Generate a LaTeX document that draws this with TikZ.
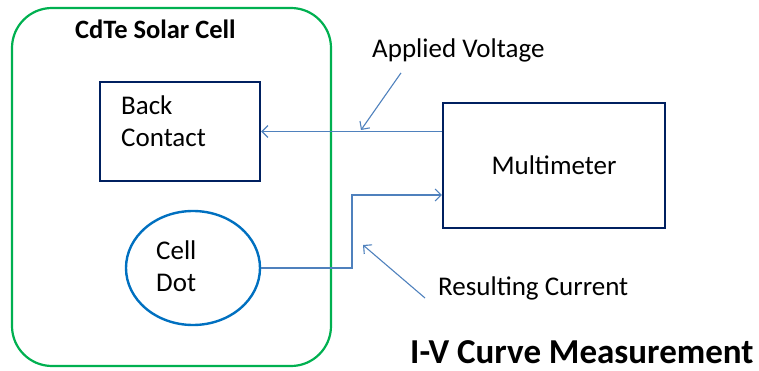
\documentclass[tikz,border=0pt]{standalone}
\usepackage{fontspec}
\setmainfont{Carlito}
\usepackage{tikz}
\usetikzlibrary{shapes.geometric, arrows.meta, positioning, calc}

\definecolor{cellgreen}{RGB}{0,176,80}
\definecolor{navy}{RGB}{0,32,96}
\definecolor{dotblue}{RGB}{0,112,192}
\definecolor{wire}{RGB}{79,129,189}

\begin{document}
\begin{tikzpicture}[x=1pt, y=-1pt,
  cellbox/.style={rectangle, rounded corners=40pt, draw=cellgreen, line width=2.2pt,
                  minimum width=319pt, minimum height=358pt},
  darkbox/.style={rectangle, draw=navy, line width=2.4pt, inner sep=0pt},
  dotshape/.style={ellipse, draw=dotblue, line width=2.4pt, inner sep=0pt,
                   minimum width=134pt, minimum height=114pt},
  txt/.style={font=\fontsize{27}{32}\selectfont, align=left, inner sep=0pt},
  conn/.style={draw=wire, line width=1.1pt},
  tip/.style={-{Straight Barb[length=6pt, width=12pt]}}
]
\useasboundingbox (0,0) rectangle (759,371);

%% Cell
\node[cellbox] (cell) at (171.5,187) {};
\node[txt, font=\fontsize{26.5}{30}\selectfont\bfseries, anchor=west] (title) at (75,29) {CdTe Solar Cell};

\node[darkbox, minimum width=160pt, minimum height=99pt] (back) at (180,131.5) {};
\node[txt, anchor=west] (backtxt) at (121,121) {Back\\Contact};

\node[dotshape] (dot) at (193,268) {};
\node[txt, anchor=west] (dottxt) at (156,266.5) {Cell\\Dot};

%% Multimeter
\node[darkbox, minimum width=222pt, minimum height=125pt, txt] (mm) at (554,165.5) {Multimeter};

%% Wires
\coordinate (bend) at (352,195);
\draw[conn, tip] (back.east -| mm.west) -- (back.east);
\draw[conn, tip] (dot.east) -- (dot.east -| bend) -- (bend) -- (bend -| mm.west);

%% Labels
\node[txt, anchor=west] (av) at (372,50) {Applied Voltage};
\node[txt, anchor=west] (rc) at (438,288) {Resulting Current};
\coordinate (avtip) at (361,130);
\coordinate (rctip) at (363,245);
\draw[conn, tip] ([xshift=29pt, yshift=-11pt]av.south west) -- (avtip);
\draw[conn, tip] ([xshift=-13pt, yshift=-10pt]rc.west) -- (rctip);

\node[txt, font=\fontsize{35}{40}\selectfont\bfseries, anchor=west] (iv) at (410,352) {I-V Curve Measurement};
\end{tikzpicture}
\end{document}
